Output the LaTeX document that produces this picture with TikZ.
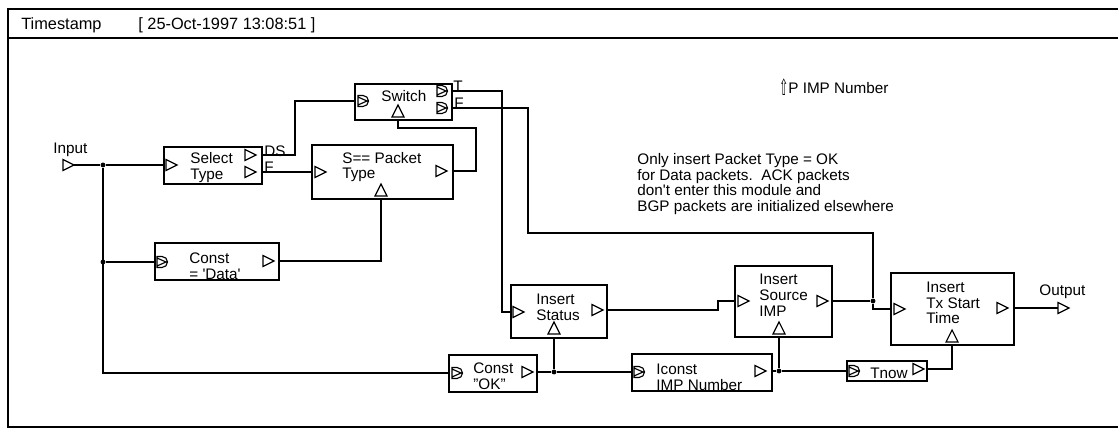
\documentclass[tikz,border=0pt]{standalone}
\usepackage{fontspec}
\setmainfont{Liberation Sans}
\newfontfamily\dejavu{DejaVu Sans}
\usepackage{tikz}

\tikzset{
  blk/.style={draw, line width=1pt, inner sep=0pt, outer sep=0pt},
  txt/.style={font=\fontsize{8.7}{9}\selectfont, align=left, inner sep=0pt, anchor=west},
  hdr/.style={font=\fontsize{9.3}{10}\selectfont, inner sep=0pt, anchor=west},
  wire/.style={line width=0.8pt},
  dot/.style={circle, fill, inner sep=0pt, minimum size=2.8pt},
  inport/.pic={\draw[line width=0.65pt] (0,-5.5) -- (11,0) -- (0,5.5) -- cycle;},
  dport/.pic={\draw[line width=0.65pt] (0,-5.5) -- (5,-5.5) arc[start angle=-90, end angle=90, radius=5.5] -- (0,5.5) -- cycle (0,-4) -- (9,0) -- (0,4);},
  trig/.pic={\draw[line width=0.65pt] (-6,0) -- (0,-12) -- (6,0) -- cycle;}
}

\begin{document}
\begin{tikzpicture}[x=0.02cm, y=-0.02cm]
  \useasboundingbox (0,0) rectangle (1118,428);
  % Frame
  \draw[line width=1pt] (8,9) rectangle (1130,427);
  \draw[line width=1pt] (8,38) -- (1130,38);
  \node[hdr] (ts) at (21,25) {Timestamp};
  \node[hdr] (date) at (138,25) {[ 25-Oct-1997 13:08:51 ]};

  % Blocks
  \node[blk, minimum width=1.96cm, minimum height=0.74cm] (sel) at (213,165.5) {};
  \node[blk, minimum width=1.94cm, minimum height=0.72cm] (sw) at (403.5,102) {};
  \node[blk, minimum width=2.82cm, minimum height=1.08cm] (spt) at (382.5,172) {};
  \node[blk, minimum width=2.48cm, minimum height=0.74cm] (cdata) at (217,261.5) {};
  \node[blk, minimum width=1.76cm, minimum height=0.74cm] (cok) at (493,373.5) {};
  \node[blk, minimum width=1.92cm, minimum height=1.06cm] (ist) at (559,311.5) {};
  \node[blk, minimum width=1.94cm, minimum height=1.42cm] (isrc) at (783.5,301.5) {};
  \node[blk, minimum width=2.80cm, minimum height=0.74cm] (icn) at (702,372.5) {};
  \node[blk, minimum width=1.60cm, minimum height=0.40cm] (tnow) at (887,371) {};
  \node[blk, minimum width=2.46cm, minimum height=1.44cm] (itx) at (952.5,309) {};

  % Block texts
  \node[txt] (sel-t) at (190,167.5) {Select\\Type};
  \node[txt] (sw-t) at (381,96) {Switch};
  \node[txt] (spt-t) at (342,167) {S== Packet\\Type};
  \node[txt] (cdata-t) at (189,266) {Const\\= \textquotesingle Data\textquotesingle};
  \node[txt] (cok-t) at (473,376) {Const\\"OK"};
  \node[txt] (ist-t) at (536,307) {Insert\\Status};
  \node[txt] (isrc-t) at (759,295) {Insert\\Source\\IMP};
  \node[txt] (icn-t) at (656,377) {Iconst\\IMP Number};
  \node[txt] (tnow-t) at (870,373) {Tnow};
  \node[txt] (itx-t) at (926,303) {Insert\\Tx Start\\Time};

  % Ports
  \foreach \p in {(63,165),(1058,308),(166,165),(245,155),(245,172),(315,172),(436,171),
                  (263,261),(522,372),(513,312),(592,310),(738,301),(817,301),(755,371),
                  (913,369),(894,309),(997,308)}
    \pic at \p {inport};
  \foreach \p in {(358,101),(437,91),(437,108),(157,262),(452,373),(634,372),(849,371)}
    \pic at \p {dport};
  \foreach \p in {(398,117),(381,196),(554,334),(779,334),(952,342)}
    \pic at \p {trig};

  % Terminals and junctions
  \coordinate (in) at (74,165);
  \coordinate (out) at (1058,308);
  \node[txt] (in-t) at (53,150) {Input};
  \node[txt] (out-t) at (1039,292) {Output};
  \node[dot] (j1) at (103,165) {};
  \node[dot] (j2) at (103,262) {};
  \node[dot] (j3) at (554,372) {};
  \node[dot] (j4) at (779,371) {};
  \node[dot] (j5) at (873,301) {};

  % Port labels
  \node[txt] (ds-t) at (264,151) {DS};
  \node[txt] (f1-t) at (264,167) {F};
  \node[txt] (t-t) at (453,86) {T};
  \node[txt] (f2-t) at (454,103) {F};

  % Wires
  \draw[wire] (in) -- (j1) -- (sel.west |- j1);
  \draw[wire] (j1) |- (cok.west |- 0,373);
  \draw[wire] (j2) -- (cdata.west |- j2);
  \draw[wire] (sel.east |- 0,155) -| (295,101) -- (sw.west |- 0,101);
  \draw[wire] (sel.east |- 0,172) -- (spt.west |- 0,172);
  \draw[wire] (sw.south -| 398,0) -- (398,128) -| (476,171) -- (spt.east |- 0,171);
  \draw[wire] (cdata.east |- 0,261) -| (spt.south -| 381,0);
  \draw[wire] (sw.east |- 0,91) -| (502,312) -- (ist.west |- 0,312);
  \draw[wire] (sw.east |- 0,108) -| (528,233) -| (j5) |- (itx.west |- 0,309);
  \draw[wire] (cok.east |- 0,372) -- (j3) -- (icn.west |- 0,372);
  \draw[wire] (j3) -- (ist.south -| j3);
  \draw[wire] (ist.east |- 0,310) -- (718,310) |- (isrc.west |- 0,301);
  \draw[wire] (isrc.east |- 0,301) -- (j5);
  \draw[wire] (icn.east |- 0,371) -- (j4) -- (tnow.west |- 0,371);
  \draw[wire] (j4) -- (isrc.south -| j4);
  \draw[wire] (tnow.east |- 0,369) -| (itx.south -| 952,0);
  \draw[wire] (itx.east |- 0,308) -- (out);

  % Notes
  \node[txt] (imp) at (779,87) {\raisebox{-0.1em}{\scalebox{0.7}[1.45]{\dejavu ⇧}}P IMP Number};
  \node[txt] (note) at (637,184) {Only insert Packet Type = OK\\for Data packets.\ \ ACK packets\\don\textquotesingle t enter this module and\\BGP packets are initialized elsewhere};
\end{tikzpicture}
\end{document}
